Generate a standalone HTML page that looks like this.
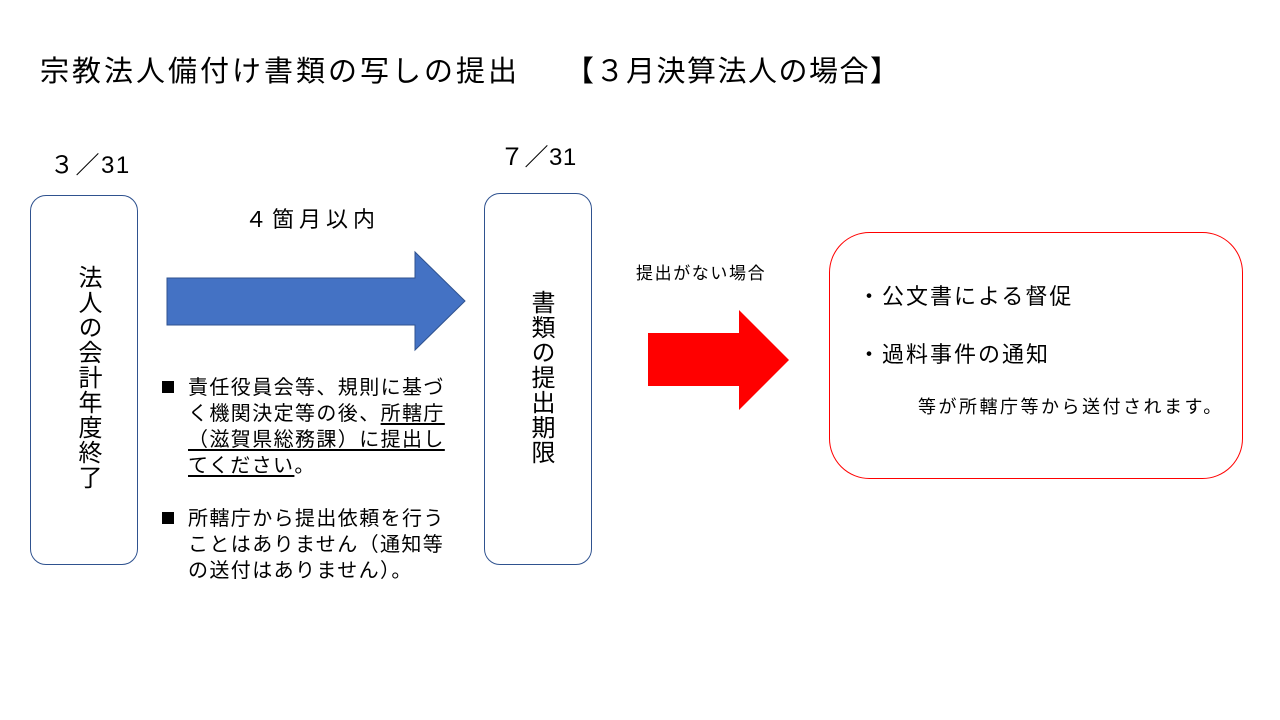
<!DOCTYPE html>
<html><head><meta charset="utf-8"><style>
body{margin:0;width:1280px;height:720px;background:#fff;position:relative;overflow:hidden;font-family:"Liberation Sans","Noto Sans CJK JP",sans-serif;color:#000}
.a{position:absolute;white-space:nowrap}
.box{position:absolute;border:1px solid #2F528F;border-radius:16px;box-sizing:border-box}
.v{position:absolute;writing-mode:vertical-rl;font-size:24px;letter-spacing:1px}
u{text-decoration:underline;text-underline-offset:3px}
.b{position:absolute;white-space:nowrap;font-size:20px;letter-spacing:1.4px;line-height:26px}
</style></head><body>
<div class="a" style="left:40px;top:48px;font-size:29px;letter-spacing:3px">宗教法人備付け書類の写しの提出</div>
<div class="a" style="left:565px;top:48px;font-size:29px;letter-spacing:1.5px">【３月決算法人の場合】</div>
<div class="a" style="left:50px;top:145px;font-size:24px;letter-spacing:1.5px">３／31</div>
<div class="a" style="left:500px;top:137px;font-size:24px;letter-spacing:0.5px">７／31</div>
<div class="a" style="left:245px;top:202px;font-size:22px;letter-spacing:5px">４箇月以内</div>
<div class="a" style="left:636px;top:259px;font-size:17px;letter-spacing:1.6px">提出がない場合</div>
<div class="box" style="left:30px;top:195px;width:108px;height:370px"></div>
<div class="v" style="left:70px;top:265px">法人の会計年度終了</div>
<div class="box" style="left:484px;top:193px;width:108px;height:372px"></div>
<div class="v" style="left:523px;top:290px">書類の提出期限</div>
<svg class="a" style="left:0;top:0" width="1280" height="720">
<polygon points="167,278 415,278 415,252 465,301 415,350 415,325 167,325" fill="#4472C4" stroke="#2F528F" stroke-width="1"/>
<polygon points="648,333 739,333 739,310 789,360 739,410 739,386 648,386" fill="#FF0000"/>
<rect x="829.5" y="232.5" width="413" height="246" rx="40" fill="none" stroke="#FF0000" stroke-width="1"/>
<rect x="162" y="381" width="12" height="12" fill="#000"/>
<rect x="162" y="512" width="12" height="12" fill="#000"/>
</svg>
<div class="b" style="left:188px;top:375px">責任役員会等、規則に基づ<br>く機関決定等の後、<u>所轄庁</u><br><u>（滋賀県総務課）に提出し</u><br><u>てください</u>。</div>
<div class="b" style="left:188px;top:506px">所轄庁から提出依頼を行う<br>ことはありません（通知等<br>の送付はありません）。</div>
<div class="a" style="left:858px;top:279px;font-size:22px;letter-spacing:2px">・公文書による督促</div>
<div class="a" style="left:858px;top:337px;font-size:22px;letter-spacing:2px">・過料事件の通知</div>
<div class="a" style="left:918px;top:393px;font-size:18px;letter-spacing:2.5px">等が所轄庁等から送付されます。</div>
</body></html>
